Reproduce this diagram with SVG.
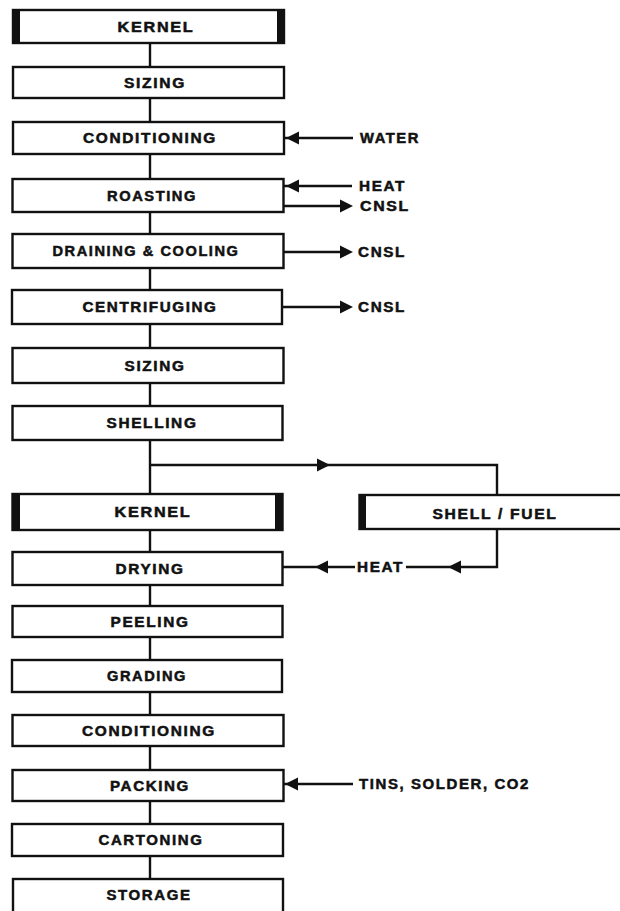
<svg xmlns="http://www.w3.org/2000/svg" xmlns:xlink="http://www.w3.org/1999/xlink" width="620" height="911" viewBox="0 0 620 911">
<style>
  .box { fill: #ffffff; stroke: #111; stroke-width: 2.4; }
  .bar { fill: #111; }
  .ln { fill: none; stroke: #111; stroke-width: 2.4; }
  .t { font-family: "Liberation Sans", Arial, sans-serif; font-weight: bold; font-size: 14px; letter-spacing: 1.5px; fill: #111; stroke: #111; stroke-width: 0.5; }
  .c { text-anchor: middle; }
</style>
<defs>
  <path id="ah" d="M0,0 L13,-6.5 L13,6.5 Z" fill="#111"/>
</defs>
<rect width="620" height="911" fill="#ffffff"/>

<g id="connectors">
  <line class="ln" x1="150" y1="43" x2="150" y2="67"/>
  <line class="ln" x1="150" y1="98" x2="150" y2="122"/>
  <line class="ln" x1="150" y1="154" x2="150" y2="179"/>
  <line class="ln" x1="150" y1="212" x2="150" y2="234"/>
  <line class="ln" x1="150" y1="268" x2="150" y2="290"/>
  <line class="ln" x1="150" y1="324" x2="150" y2="348"/>
  <line class="ln" x1="150" y1="383" x2="150" y2="406"/>
  <line class="ln" x1="150" y1="440" x2="150" y2="494"/>
  <line class="ln" x1="150" y1="530" x2="150" y2="552"/>
  <line class="ln" x1="150" y1="585" x2="150" y2="606"/>
  <line class="ln" x1="150" y1="637" x2="150" y2="660"/>
  <line class="ln" x1="150" y1="692" x2="150" y2="715"/>
  <line class="ln" x1="150" y1="746" x2="150" y2="770"/>
  <line class="ln" x1="150" y1="801" x2="150" y2="824"/>
  <line class="ln" x1="150" y1="856" x2="150" y2="879"/>
  <!-- water -->
  <line class="ln" x1="284" y1="138" x2="353" y2="138"/>
  <use xlink:href="#ah" transform="translate(286,138)"/>
  <!-- roasting heat -->
  <line class="ln" x1="284" y1="186" x2="352" y2="186"/>
  <use xlink:href="#ah" transform="translate(286,186)"/>
  <!-- roasting cnsl -->
  <line class="ln" x1="284" y1="206" x2="345" y2="206"/>
  <use xlink:href="#ah" transform="translate(353,206) rotate(180)"/>
  <!-- draining cnsl -->
  <line class="ln" x1="284" y1="252" x2="345" y2="252"/>
  <use xlink:href="#ah" transform="translate(353,252) rotate(180)"/>
  <!-- centrifuging cnsl -->
  <line class="ln" x1="282" y1="307" x2="345" y2="307"/>
  <use xlink:href="#ah" transform="translate(353,307) rotate(180)"/>
  <!-- shelling branch -->
  <polyline class="ln" points="150,465 497,465 497,495"/>
  <use xlink:href="#ah" transform="translate(330,465) rotate(180)"/>
  <!-- shell/fuel heat return -->
  <polyline class="ln" points="497,529 497,567 406,567"/>
  <use xlink:href="#ah" transform="translate(448,567)"/>
  <line class="ln" x1="283" y1="567" x2="355" y2="567"/>
  <use xlink:href="#ah" transform="translate(315,567)"/>
  <!-- packing input -->
  <line class="ln" x1="284" y1="784" x2="353" y2="784"/>
  <use xlink:href="#ah" transform="translate(285,784)"/>
</g>

<g id="n-kernel-1">
  <rect class="box" x="13" y="10" width="271" height="33"/>
  <rect class="bar" x="12" y="9" width="8" height="35"/>
  <rect class="bar" x="277" y="9" width="8" height="35"/>
  <text class="t c" x="156" y="31.5" textLength="77" lengthAdjust="spacingAndGlyphs">KERNEL</text>
</g>
<g id="n-sizing-1">
  <rect class="box" x="13" y="67" width="271" height="31"/>
  <text class="t c" x="155" y="87.5" textLength="62" lengthAdjust="spacingAndGlyphs">SIZING</text>
</g>
<g id="n-conditioning-1">
  <rect class="box" x="13" y="122" width="271" height="32"/>
  <text class="t c" x="150" y="143" textLength="134" lengthAdjust="spacingAndGlyphs">CONDITIONING</text>
</g>
<g id="n-roasting">
  <rect class="box" x="12.5" y="179" width="271" height="33"/>
  <text class="t c" x="152" y="200.5" textLength="90" lengthAdjust="spacingAndGlyphs">ROASTING</text>
</g>
<g id="n-draining">
  <rect class="box" x="12.5" y="234" width="271" height="34"/>
  <text class="t c" x="146" y="256" textLength="187" lengthAdjust="spacingAndGlyphs">DRAINING &amp; COOLING</text>
</g>
<g id="n-centrifuging">
  <rect class="box" x="12" y="290" width="270" height="34"/>
  <text class="t c" x="150" y="312" textLength="135" lengthAdjust="spacingAndGlyphs">CENTRIFUGING</text>
</g>
<g id="n-sizing-2">
  <rect class="box" x="12.5" y="348" width="271" height="35"/>
  <text class="t c" x="155" y="370.5" textLength="61" lengthAdjust="spacingAndGlyphs">SIZING</text>
</g>
<g id="n-shelling">
  <rect class="box" x="12.5" y="406" width="270" height="34"/>
  <text class="t c" x="152" y="428" textLength="91" lengthAdjust="spacingAndGlyphs">SHELLING</text>
</g>
<g id="n-kernel-2">
  <rect class="box" x="12.5" y="494" width="270" height="36"/>
  <rect class="bar" x="12" y="493" width="8" height="38"/>
  <rect class="bar" x="275" y="493" width="8" height="38"/>
  <text class="t c" x="153" y="517" textLength="77" lengthAdjust="spacingAndGlyphs">KERNEL</text>
</g>
<g id="n-shell-fuel">
  <rect class="box" x="359.5" y="495" width="280" height="34"/>
  <rect class="bar" x="359" y="494" width="7" height="36"/>
  <text class="t c" x="495" y="519" textLength="125" lengthAdjust="spacingAndGlyphs">SHELL / FUEL</text>
</g>
<g id="n-drying">
  <rect class="box" x="12.5" y="552" width="270" height="33"/>
  <text class="t c" x="150" y="573.5" textLength="69" lengthAdjust="spacingAndGlyphs">DRYING</text>
</g>
<g id="n-peeling">
  <rect class="box" x="12.5" y="606" width="270" height="31"/>
  <text class="t c" x="150" y="626.5" textLength="79" lengthAdjust="spacingAndGlyphs">PEELING</text>
</g>
<g id="n-grading">
  <rect class="box" x="12" y="660" width="270" height="32"/>
  <text class="t c" x="147" y="681" textLength="80" lengthAdjust="spacingAndGlyphs">GRADING</text>
</g>
<g id="n-conditioning-2">
  <rect class="box" x="12.5" y="715" width="271" height="31"/>
  <text class="t c" x="149" y="735.5" textLength="134" lengthAdjust="spacingAndGlyphs">CONDITIONING</text>
</g>
<g id="n-packing">
  <rect class="box" x="12.5" y="770" width="271" height="31"/>
  <text class="t c" x="150" y="790.5" textLength="80" lengthAdjust="spacingAndGlyphs">PACKING</text>
</g>
<g id="n-cartoning">
  <rect class="box" x="12" y="824" width="271" height="32"/>
  <text class="t c" x="151" y="845" textLength="105" lengthAdjust="spacingAndGlyphs">CARTONING</text>
</g>
<g id="n-storage">
  <rect class="box" x="13" y="879" width="270" height="45"/>
  <text class="t c" x="149" y="900" textLength="85" lengthAdjust="spacingAndGlyphs">STORAGE</text>
</g>

<g id="labels">
  <text class="t" x="360" y="143" textLength="60" lengthAdjust="spacingAndGlyphs">WATER</text>
  <text class="t" x="359" y="191" textLength="47" lengthAdjust="spacingAndGlyphs">HEAT</text>
  <text class="t" x="360" y="211" textLength="50" lengthAdjust="spacingAndGlyphs">CNSL</text>
  <text class="t" x="358" y="257" textLength="48" lengthAdjust="spacingAndGlyphs">CNSL</text>
  <text class="t" x="358" y="312" textLength="48" lengthAdjust="spacingAndGlyphs">CNSL</text>
  <text class="t" x="357" y="572" textLength="47" lengthAdjust="spacingAndGlyphs">HEAT</text>
  <text class="t" x="359" y="789" textLength="171" lengthAdjust="spacingAndGlyphs">TINS, SOLDER, CO2</text>
</g>
</svg>
